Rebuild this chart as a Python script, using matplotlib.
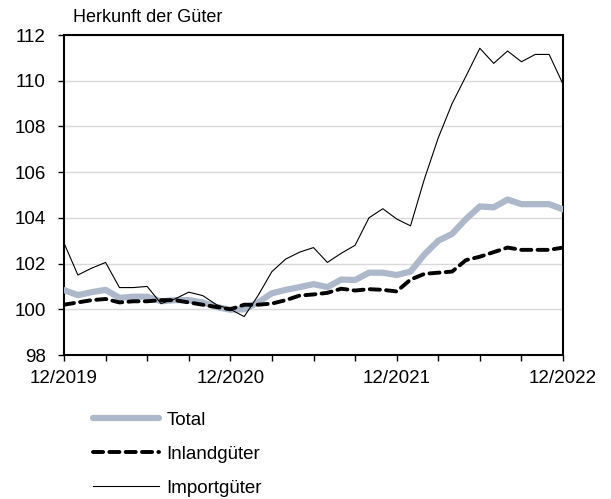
import matplotlib
matplotlib.use("Agg")
import matplotlib.pyplot as plt
import numpy as np

plt.rcParams['font.family'] = ['Liberation Sans', 'DejaVu Sans']

# monatliche Indexwerte 12/2019 .. 12/2022
monate = np.arange(37)
tick_labels = ["12/2019", "12/2020", "12/2021", "12/2022"]

total = [100.84, 100.62, 100.75, 100.85, 100.5, 100.55, 100.55, 100.35, 100.4, 100.4,
         100.3, 100.1, 99.98, 100.0, 100.3, 100.7, 100.85, 100.97, 101.1, 100.97,
         101.3, 101.28, 101.6, 101.6, 101.5, 101.65, 102.4, 103.0, 103.3, 103.95,
         104.5, 104.46, 104.8, 104.6, 104.6, 104.6, 104.37]

inland = [100.2, 100.3, 100.4, 100.45, 100.3, 100.35, 100.35, 100.4, 100.4, 100.3,
          100.2, 100.1, 100.0, 100.2, 100.2, 100.25, 100.4, 100.6, 100.65, 100.72,
          100.9, 100.82, 100.88, 100.85, 100.78, 101.3, 101.55, 101.6, 101.65, 102.15,
          102.3, 102.5, 102.7, 102.6, 102.6, 102.6, 102.7]

import_ = [102.9, 101.5, 101.8, 102.05, 100.95, 100.95, 101.0, 100.25, 100.45, 100.75,
           100.6, 100.2, 100.0, 99.68, 100.6, 101.65, 102.2, 102.5, 102.7, 102.05,
           102.45, 102.8, 104.0, 104.4, 103.95, 103.65, 105.7, 107.5, 109.0, 110.2,
           111.42, 110.76, 111.3, 110.83, 111.15, 111.15, 109.85]

fig = plt.figure(figsize=(6.11, 4.99), dpi=100)
ax = fig.add_axes([64/611, 1 - 355/499, (563 - 64)/611, (355 - 35)/499])

ax.plot(monate, total, color="#adb9ca", lw=4.5, solid_capstyle="round", label="Total", zorder=3)
ax.plot(monate, inland, color="black", lw=2.8, dashes=(2.6, 1.6), dash_capstyle="round",
        label="Inlandgüter", zorder=4)
ax.plot(monate, import_, color="black", lw=0.8, label="Importgüter", zorder=5)

ax.set_xlim(0, 36)
ax.set_ylim(98, 112)
ax.set_yticks(np.arange(98, 113, 2))
ax.set_xticks([0, 12, 24, 36])
ax.set_xticklabels(tick_labels)
ax.set_xticks(np.arange(0, 37, 3), minor=True)
ax.grid(axis="y", color="#d9d9d9", lw=1)
ax.set_axisbelow(True)

for s in ax.spines.values():
    s.set_linewidth(1.5)
ax.tick_params(axis="both", which="both", direction="out", length=4, width=1, labelsize=13.5)
ax.tick_params(axis="y", pad=9)
ax.tick_params(axis="x", pad=7)

fig.text(73/611, 1 - 18/499, "Herkunft der Güter", fontsize=13, va="center", ha="left")

fig.legend(loc="upper left", bbox_to_anchor=(76/611, 1 - 395/499), frameon=False,
           fontsize=13.5, handlelength=3.55, handletextpad=0.37, labelspacing=0.9)

fig.savefig("out.png", dpi=100)
